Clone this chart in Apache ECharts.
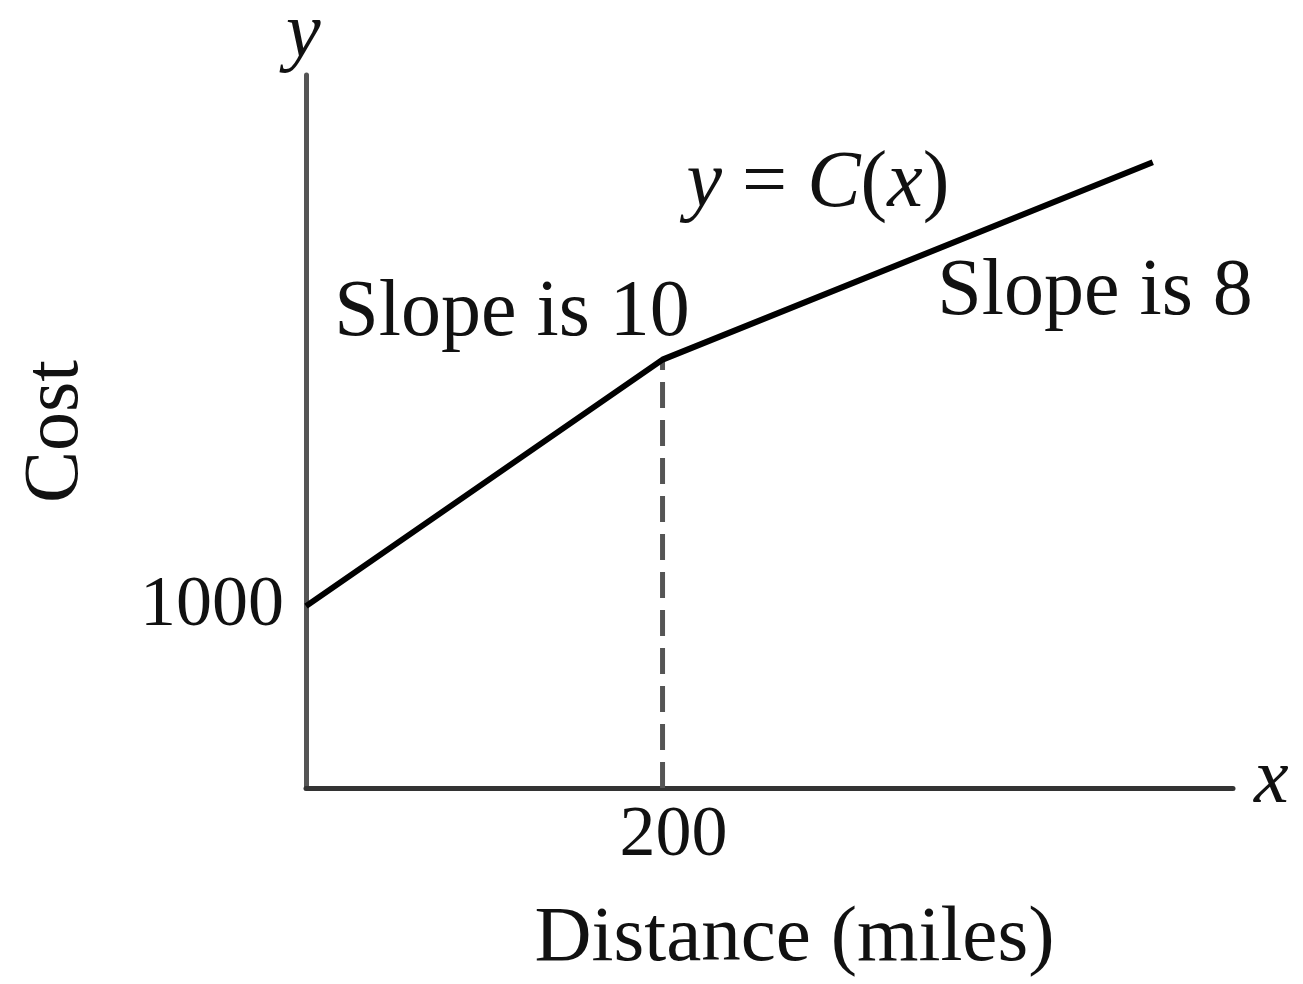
<!DOCTYPE html>
<html>
<head>
<meta charset="utf-8">
<script src="https://cdn.jsdelivr.net/npm/echarts@6/dist/echarts.min.js"></script>
<style>
  html, body { margin: 0; padding: 0; background: #fff; }
  #chart { width: 1303px; height: 984px; }
</style>
</head>
<body>
<div id="chart"></div>
<script>
// Piecewise-linear cost function C(x): distance (miles) vs cost
const distance = [0, 200, 475];
const cost = [1000, 2355, 3440];

// The only labelled ticks on each axis
const xTickValues = [200];
const yTickValues = [1000];

// Annotation texts
const curveLabel = '{i|y} = {i|C}({i|x})';
const slopeLabels = ['Slope is 10', 'Slope is 8'];
const xAxisName = 'Distance (miles)';
const yAxisName = 'Cost';

const serif = "'Liberation Serif', 'DejaVu Serif', serif";
const fs = 78;

const linePoints = distance.map((d, i) => [d, cost[i]]);
const dropPoints = [[distance[1], 0], [distance[1], cost[1]]];

const plainNumber = v => String(v);

const chart = echarts.init(document.getElementById('chart'), null, { renderer: 'canvas' });

chart.setOption({
  animation: false,
  backgroundColor: '#ffffff',
  grid: { left: 306, right: 70, top: 75, bottom: 195, containLabel: false },
  xAxis: {
    type: 'value',
    min: 0,
    max: 520,
    name: xAxisName,
    nameLocation: 'middle',
    nameGap: 112,
    nameTextStyle: { fontFamily: serif, fontSize: 79, color: '#111', padding: [0, 0, 0, 50] },
    axisLine: { show: true, onZero: false, lineStyle: { color: '#333', width: 5 } },
    axisTick: { show: false },
    splitLine: { show: false },
    axisLabel: {
      customValues: xTickValues,
      formatter: plainNumber,
      fontFamily: serif, fontSize: 72, color: '#111', margin: 12,
      padding: [0, 0, 0, 22]
    }
  },
  yAxis: {
    type: 'value',
    min: 0,
    max: 3920,
    name: yAxisName,
    nameLocation: 'middle',
    nameRotate: 90,
    nameGap: 210,
    nameTextStyle: { fontFamily: serif, fontSize: fs, color: '#111' },
    axisLine: { show: true, onZero: false, lineStyle: { color: '#555', width: 5 } },
    axisTick: { show: false },
    splitLine: { show: false },
    axisLabel: {
      customValues: yTickValues,
      formatter: plainNumber,
      fontFamily: serif, fontSize: 72, color: '#111', margin: 22,
      padding: [8, 0, 0, 0]
    }
  },
  series: [
    {
      type: 'line',
      data: linePoints,
      symbol: 'none',
      lineStyle: { color: '#000', width: 6 },
      z: 3
    },
    {
      type: 'line',
      data: dropPoints,
      symbol: 'none',
      lineStyle: { color: '#555', width: 5, type: [26, 12] },
      z: 2
    }
  ],
  graphic: [
    { type: 'text', left: 286, top: -4, style: { text: 'y', fontFamily: serif, fontSize: fs, fontStyle: 'italic', fill: '#111' } },
    { type: 'text', left: 1254, top: 742, style: { text: 'x', fontFamily: serif, fontSize: fs, fontStyle: 'italic', fill: '#111' } },
    {
      type: 'text', x: 818, y: 185,
      style: {
        text: curveLabel, fontFamily: serif, fontSize: 80, fill: '#111',
        align: 'center', verticalAlign: 'middle',
        rich: { i: { fontFamily: serif, fontSize: 80, fontStyle: 'italic', fill: '#111' } }
      }
    },
    { type: 'text', x: 512, y: 314, style: { text: slopeLabels[0], fontFamily: serif, fontSize: 80, fill: '#111', align: 'center', verticalAlign: 'middle' } },
    { type: 'text', x: 1095, y: 293, style: { text: slopeLabels[1], fontFamily: serif, fontSize: 80, fill: '#111', align: 'center', verticalAlign: 'middle' } }
  ]
});
</script>
</body>
</html>
